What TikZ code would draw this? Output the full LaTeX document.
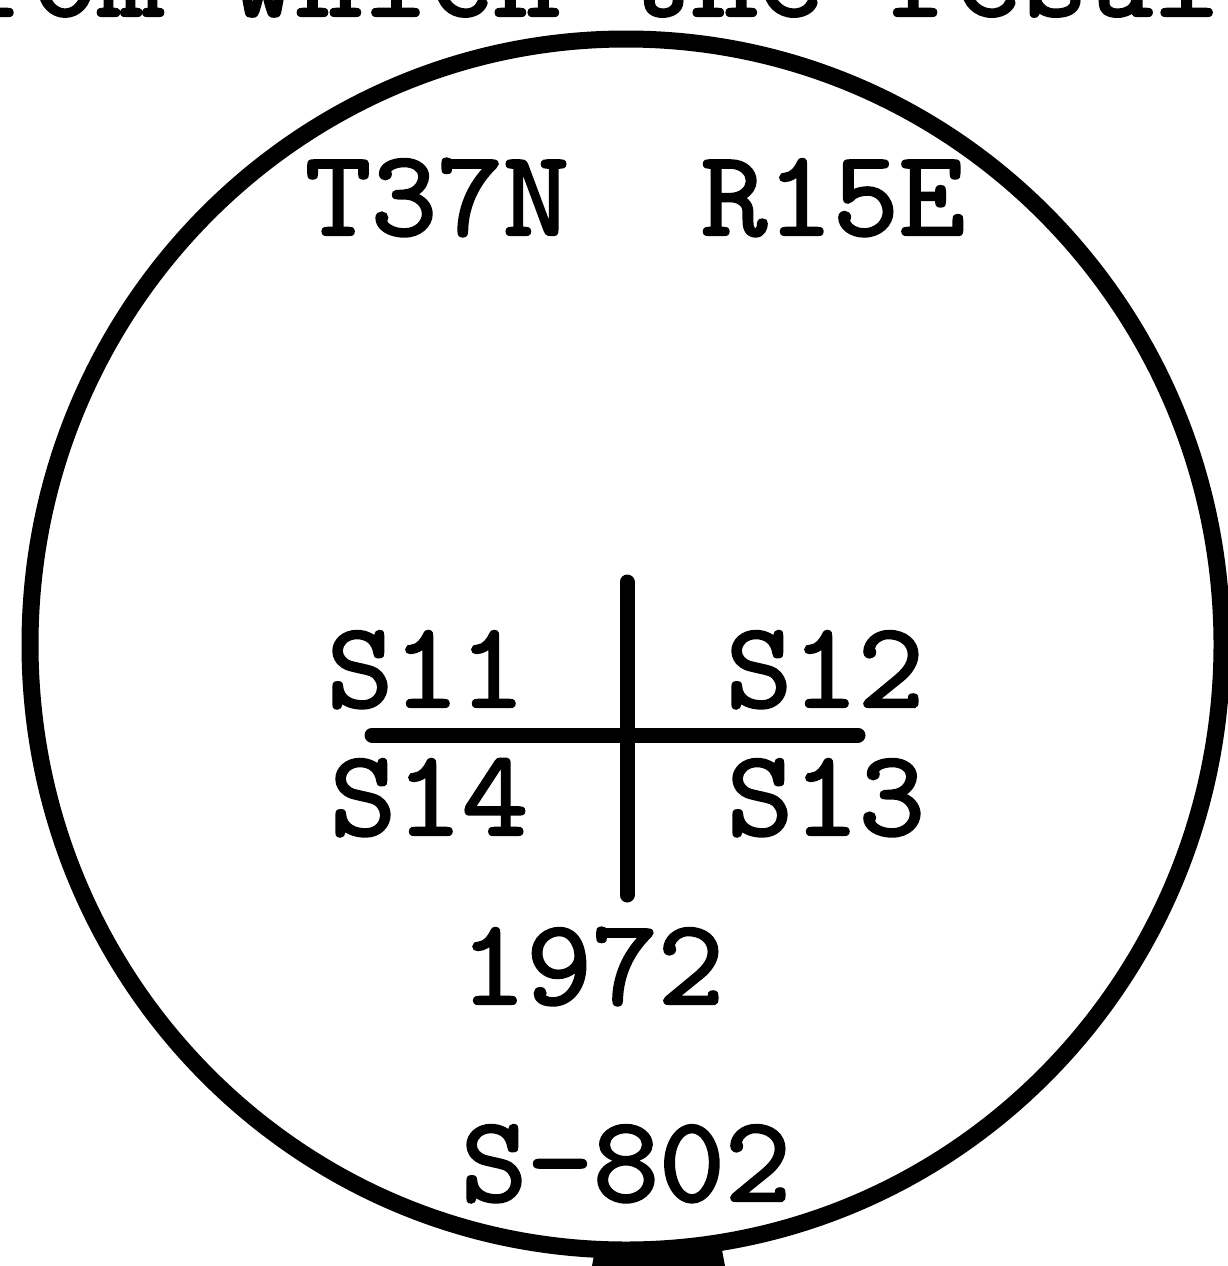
\documentclass[tikz,border=0pt]{standalone}
\usepackage{fontspec}
\usepackage{graphicx}
\newfontfamily\typew[FakeBold=2]{Latin Modern Mono}
\newcommand{\tw}[1]{\scalebox{1.05}[1]{#1}}
\begin{document}
\begin{tikzpicture}[x=1pt,y=-1pt,
  lbl/.style={inner sep=0pt, anchor=base, font=\typew\fontsize{122}{134}\selectfont},
  heavy/.style={line width=15pt, line cap=round}]
\useasboundingbox (0,0) rectangle (1228,1266);
\fill[white] (0,0) rectangle (1228,1266);
% cut-off text line at top
\node[lbl, anchor=base west] (topline) at (-100,16) {\tw{from which the results}};
% circle
\draw[line width=17pt] (626,644.5) ellipse [x radius=596, y radius=605.5];
% stem at bottom
\fill (592,1266) -- (595,1250) -- (722,1250) -- (725,1266) -- cycle;
% cross
\coordinate (vt) at (627,582);
\coordinate (vb) at (627,895);
\coordinate (hl) at (372,735);
\coordinate (hr) at (858,735);
\draw[heavy] (vt) -- (vb);
\draw[heavy] (hl) -- (hr);
% labels
\node[lbl] (twp) at (635,235) {\tw{T37N\ \ R15E}};
\node[lbl] (s11) at (426,707) {\tw{S11}};
\node[lbl] (s12) at (825,707) {\tw{S12}};
\node[lbl] (s14) at (429,835) {\tw{S14}};
\node[lbl] (s13) at (826,835) {\tw{S13}};
\node[lbl] (yr) at (592,1004) {\tw{1972}};
\node[lbl] (num) at (626,1201) {\tw{S-802}};
\end{tikzpicture}
\end{document}
